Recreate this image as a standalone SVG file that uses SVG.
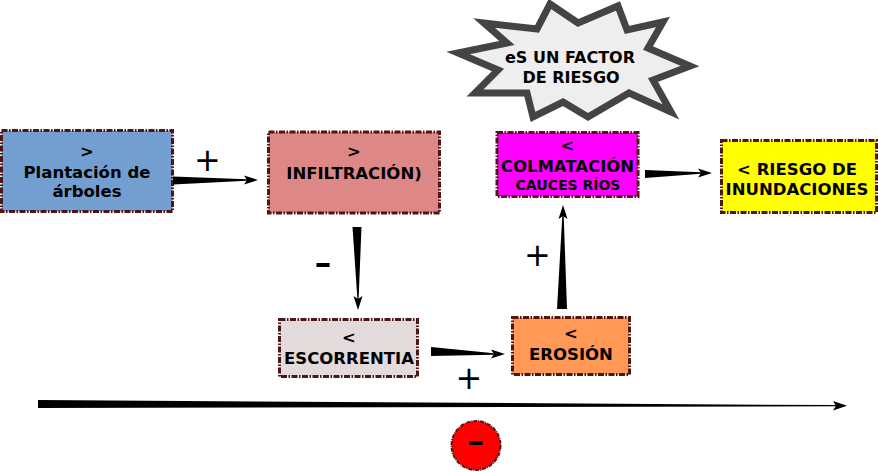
<svg xmlns="http://www.w3.org/2000/svg" width="878" height="472" viewBox="0 0 878 472">
<style>
.box{stroke:#501616;stroke-width:3;stroke-dasharray:6,1.5,1.5,1.5}
.t{font-family:"DejaVu Sans","Liberation Sans",sans-serif;font-weight:bold;font-size:16.5px;text-anchor:middle;fill:#000}
.s{font-size:14px}
.sign{font-family:"DejaVu Sans","Liberation Sans",sans-serif;font-size:32px;text-anchor:middle;fill:#000}
.minus{font-family:"DejaVu Sans","Liberation Sans",sans-serif;font-size:50px;text-anchor:middle;fill:#000}
.w{fill:#000}
</style>
<rect width="878" height="472" fill="#fff"/>
<g id="star">
<polygon points="550,4 578,23 618,6 627,30 663,22 648,48 690,66 653,80 671,112 629,93 588,117 563,102 533,117 527,93 475,93 498,70 458,53 507,43 484,23 537,29" fill="#eeeeee" stroke="#444444" stroke-width="7" stroke-linejoin="miter"/>
<text class="t" font-size="16" style="font-size:16px" x="570" y="63">eS UN FACTOR</text>
<text class="t" style="font-size:16px" x="571" y="83">DE RIESGO</text>
</g>
<g id="plantacion">
<rect class="box" x="1.5" y="130.5" width="171" height="81" fill="#729fcf"/>
<text class="t" x="87" y="157">&gt;</text>
<text class="t" x="87" y="178">Plantación de</text>
<text class="t" x="87" y="197">árboles</text>
</g>
<g id="infiltracion">
<rect class="box" x="268.5" y="132" width="171" height="81" fill="#de8787"/>
<text class="t" x="354" y="157">&gt;</text>
<text class="t" x="354" y="179">INFILTRACIÓN)</text>
</g>
<g id="colmatacion">
<rect class="box" x="497" y="132.5" width="141" height="64" fill="#ff00ff"/>
<text class="t" x="567.5" y="151">&lt;</text>
<text class="t" x="567.5" y="172">COLMATACIÓN</text>
<text class="t s" x="568" y="190">CAUCES RÍOS</text>
</g>
<g id="riesgo">
<rect class="box" x="721.5" y="140.5" width="155" height="72" fill="#ffff00"/>
<text class="t" x="797" y="175">&lt; RIESGO DE</text>
<text class="t" x="797" y="195">INUNDACIONES</text>
</g>
<g id="escorrentia">
<rect class="box" x="279.5" y="319.5" width="138" height="57" fill="#e3dbdb"/>
<text class="t" x="349" y="343">&lt;</text>
<text class="t" x="349" y="364">ESCORRENTIA</text>
</g>
<g id="erosion">
<rect class="box" x="512.5" y="317.5" width="117" height="57" fill="#ff9955"/>
<text class="t" x="571" y="339">&lt;</text>
<text class="t" x="571" y="360">EROSIÓN</text>
</g>
<g id="menos">
<circle cx="476" cy="445.5" r="24.5" fill="#ff0000" stroke="#501616" stroke-width="2" stroke-dasharray="4,1,1,1"/>
<text class="minus" x="476" y="457">-</text>
</g>
<g id="connectors">
<polygon class="w" points="173,176.5 247,179.3 247,180.7 173,184.5"/>
<path class="w" d="M258,180 L244,175.5 L247,180 L244,184.5 Z"/>
<text class="sign" x="207.5" y="171">+</text>
<polygon class="w" points="352.5,227 361.5,227 358.6,299 357.4,299"/>
<path class="w" d="M358,310 L353.5,296 L358,299 L362.5,296 Z"/>
<text class="minus" x="323" y="279">-</text>
<polygon class="w" points="431,347 494,353.3 494,354.7 431,356"/>
<path class="w" d="M505,354 L491,349.5 L494,354 L491,358.5 Z"/>
<text class="sign" x="469" y="389">+</text>
<polygon class="w" points="557,309 567,309 563.7,216 562.3,216"/>
<path class="w" d="M563,205 L558.5,219 L563,216 L567.5,219 Z"/>
<text class="sign" x="537.5" y="266">+</text>
<polygon class="w" points="645,170 645,178 701,173.7 701,172.3"/>
<path class="w" d="M712,173 L698,168.5 L701,173 L698,177.5 Z"/>
<polygon class="w" points="38,400 38,408 836,406.3 836,405.1"/>
<path class="w" d="M847,405.7 L833,401 L836,405.7 L833,410.4 Z"/>
</g>
</svg>
